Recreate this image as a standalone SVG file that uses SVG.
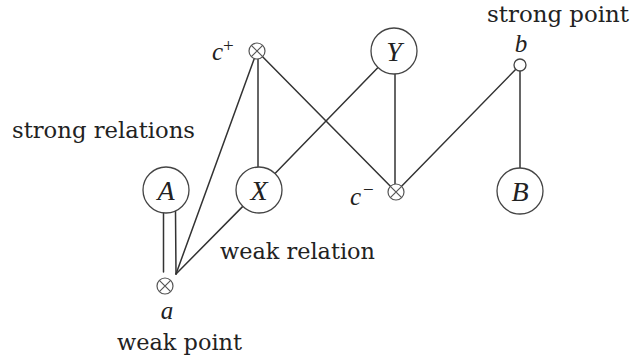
<svg xmlns="http://www.w3.org/2000/svg" xmlns:xlink="http://www.w3.org/1999/xlink" width="631" height="362" viewBox="0 0 631 362">
<style>
  .node { fill: #ffffff; stroke: #444; stroke-width: 1.3; }
  .edge { stroke: #333; stroke-width: 1.5; fill: none; stroke-linecap: round; }
  .lbl { font-family: "DejaVu Serif", "Liberation Serif", serif; font-size: 22.5px; fill: #222; }
  .math { font-family: "Liberation Serif", "Times New Roman", serif; font-style: italic; fill: #222; }
  .cap { font-size: 28px; text-anchor: middle; }
  .low { font-size: 25px; }
  .sup { font-family: "Liberation Serif", serif; font-size: 19px; fill: #222; }
</style>
<defs>
  <g id="otimes">
    <circle r="8" fill="#fff" stroke="#555" stroke-width="1.2"/>
    <path d="M-5.66,-5.66L5.66,5.66M-5.66,5.66L5.66,-5.66" stroke="#555" stroke-width="1.2"/>
  </g>
</defs>
<rect width="631" height="362" fill="#ffffff"/>

<g id="connectors">
  <line class="edge" x1="254.3" y1="58.5" x2="176" y2="274"/>
  <line class="edge" x1="258" y1="59" x2="258" y2="167"/>
  <line class="edge" x1="262.6" y1="56.7" x2="390.4" y2="186.3"/>
  <line class="edge" x1="275" y1="173.5" x2="378" y2="67.5"/>
  <line class="edge" x1="395" y1="74" x2="395" y2="184"/>
  <line class="edge" x1="401.6" y1="186.3" x2="515.8" y2="69.3"/>
  <line class="edge" x1="520" y1="71" x2="520" y2="168"/>
  <line class="edge" x1="242.8" y1="206.4" x2="176" y2="274"/>
  <line class="edge" x1="163.5" y1="213" x2="163.5" y2="272"/>
  <line class="edge" x1="175.5" y1="211" x2="176" y2="274"/>
</g>

<g id="node-A">
  <circle class="node" cx="166" cy="190" r="23"/>
  <text class="math cap" x="166" y="199.5">A</text>
</g>
<g id="node-X">
  <circle class="node" cx="259" cy="190" r="23"/>
  <text class="math cap" x="259" y="199.5">X</text>
</g>
<g id="node-Y">
  <circle class="node" cx="394" cy="51" r="23"/>
  <text class="math cap" x="394" y="60.5">Y</text>
</g>
<g id="node-B">
  <circle class="node" cx="520" cy="191" r="23"/>
  <text class="math cap" x="520" y="200.5">B</text>
</g>
<g id="node-cplus">
  <use xlink:href="#otimes" x="257" y="51"/>
  <text class="math low" x="212" y="60">c</text>
  <text class="sup" x="223" y="52">+</text>
</g>
<g id="node-cminus">
  <use xlink:href="#otimes" x="396" y="192"/>
  <text class="math low" x="350" y="205">c</text>
  <text class="sup" x="363" y="196">−</text>
</g>
<g id="node-a">
  <use xlink:href="#otimes" x="165" y="286"/>
  <text class="math low" x="167" y="319" text-anchor="middle">a</text>
  <text class="lbl" x="117" y="350" textLength="125" lengthAdjust="spacingAndGlyphs">weak point</text>
</g>
<g id="node-b">
  <circle cx="520" cy="65" r="6" fill="#fff" stroke="#444" stroke-width="1.3"/>
  <text class="math low" x="521" y="52" text-anchor="middle">b</text>
  <text class="lbl" x="487" y="22" textLength="142" lengthAdjust="spacingAndGlyphs">strong point</text>
</g>
<g id="labels">
  <text class="lbl" x="12" y="138" textLength="183" lengthAdjust="spacingAndGlyphs">strong relations</text>
  <text class="lbl" x="220" y="259" textLength="155" lengthAdjust="spacingAndGlyphs">weak relation</text>
</g>
</svg>
